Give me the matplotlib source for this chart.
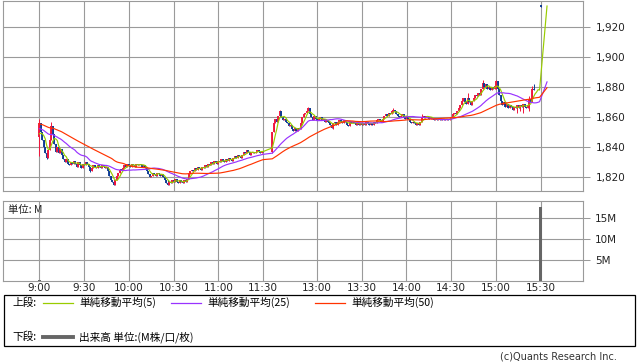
import numpy as np
import pandas as pd
import matplotlib
matplotlib.use("Agg")
import matplotlib.pyplot as plt
from matplotlib.patches import Rectangle
from matplotlib.lines import Line2D

# ---------------- data ----------------
# last closes of the previous session (seed for the moving averages)
prev_closes = [1860, 1859, 1861, 1860, 1858, 1859, 1860, 1858, 1857, 1859,
               1860, 1858, 1859, 1857, 1858, 1860, 1859, 1858, 1857, 1859,
               1858, 1857, 1859, 1858, 1857, 1856, 1855, 1854, 1856, 1855,
               1854, 1853, 1854, 1852, 1853, 1854, 1852, 1853, 1851, 1852,
               1853, 1851, 1850, 1852, 1851, 1848, 1847, 1846, 1847]

# morning session 9:00 - 11:30, one close per minute
am_open = 1847
am_closes = [1856, 1850, 1845, 1840, 1836, 1833, 1838, 1845, 1854, 1849,
             1842, 1837, 1840, 1836, 1839, 1835, 1832, 1830, 1832, 1829,
             1828, 1830, 1829, 1831, 1829, 1827, 1830, 1828, 1826, 1829,
             1828, 1830, 1829, 1827, 1824, 1826, 1828, 1827, 1826, 1828,
             1827, 1826, 1828, 1827, 1826, 1827, 1824, 1821, 1818, 1817,
             1815, 1818, 1821, 1823, 1825, 1825, 1826, 1828, 1827, 1829,
             1828, 1827, 1829, 1828, 1827, 1829, 1828, 1829, 1828, 1827,
             1828, 1826, 1824, 1822, 1820, 1821, 1823, 1822, 1821, 1823,
             1822, 1821, 1822, 1820, 1818, 1816, 1815, 1817, 1816, 1818,
             1817, 1819, 1817, 1816, 1818, 1817, 1816, 1818, 1817, 1819,
             1822, 1824, 1825, 1824, 1826, 1825, 1827, 1826, 1825, 1827,
             1826, 1828, 1827, 1829, 1828, 1830, 1829, 1831, 1830, 1829,
             1831, 1830, 1832, 1831, 1830, 1832, 1831, 1833, 1832, 1831,
             1833, 1834, 1833, 1835, 1834, 1833, 1835, 1837, 1836, 1838,
             1837, 1835, 1836, 1837, 1836, 1837, 1838, 1837, 1836, 1837, 1837]

# afternoon session 12:30 - 15:25, one close per minute
pm_open = 1837
pm_closes = [1850, 1856, 1859, 1857, 1861, 1864, 1860, 1858, 1859, 1857,
             1856, 1854, 1855, 1852, 1851, 1853, 1851, 1853, 1852, 1856,
             1860, 1862, 1863, 1864, 1866, 1862, 1860, 1858, 1861, 1859,
             1858, 1859, 1860, 1858, 1859, 1857, 1858, 1857, 1856, 1855,
             1853, 1856, 1857, 1855, 1857, 1858, 1857, 1856, 1858, 1857,
             1855, 1854, 1857, 1856, 1857, 1856, 1855, 1856, 1855, 1856,
             1855, 1856, 1855, 1857, 1856, 1855, 1856, 1855, 1857, 1856,
             1858, 1859, 1858, 1857, 1859, 1861, 1862, 1861, 1863, 1862,
             1864, 1865, 1864, 1862, 1861, 1860, 1861, 1862, 1860, 1859,
             1861, 1859, 1857, 1856, 1857, 1856, 1855, 1856, 1855, 1857,
             1860, 1861, 1860, 1861, 1860, 1859, 1860, 1859, 1858, 1859,
             1858, 1859, 1858, 1859, 1858, 1859, 1858, 1859, 1858, 1859,
             1860, 1862, 1863, 1862, 1864, 1866, 1868, 1871, 1873, 1870,
             1869, 1873, 1870, 1868, 1871, 1873, 1875, 1874, 1876, 1875,
             1879, 1883, 1880, 1882, 1879, 1880, 1878, 1880, 1879, 1881,
             1884, 1879, 1875, 1871, 1868, 1870, 1867, 1869, 1866, 1868,
             1867, 1865, 1867, 1866, 1868, 1866, 1868, 1867, 1869, 1867,
             1866, 1868, 1872, 1870, 1879, 1878]

# closing auction (no trades 15:26-15:29, print at 15:30, price held after)
wait_closes = [1878, 1878, 1878, 1878]
auction_open = 1934
auction_close = 1934
after_closes = [1934, 1934, 1934, 1934]

# candle wicks beyond the bodies
wick_times = ["9:00", "9:05", "9:08", "9:34", "9:50", "10:26", "12:30", "12:35",
              "12:54", "13:11", "13:51", "14:10", "14:41", "14:51", "15:00",
              "15:14", "15:16", "15:18", "15:22", "15:24", "15:25"]
wick_high = [1859, 1836, 1857, 1827, 1818, 1818, 1850, 1865,
             1866.5, 1856, 1866, 1862, 1876, 1885, 1884.5,
             1868, 1868, 1869, 1874, 1881, 1882]
wick_low = [1834, 1832, 1845, 1823.5, 1814.5, 1814.5, 1836, 1861,
            1864, 1852, 1863, 1858, 1869, 1879, 1879,
            1863, 1864, 1863, 1864, 1870, 1878]

# volume (millions)
vol_times = ["9:00", "15:30"]
vol_values = [0.3, 17.6]

tick_labels = ["9:00", "9:30", "10:00", "10:30", "11:00", "11:30",
               "13:00", "13:30", "14:00", "14:30", "15:00", "15:30"]
price_ticks = [1820, 1840, 1860, 1880, 1900, 1920]
vol_ticks = [5, 10, 15]

legend_labels = ["単純移動平均(5)", "単純移動平均(25)", "単純移動平均(50)"]
ma_periods = [5, 25, 50]
ma_colors = ["#99cc00", "#9933ff", "#ff3300"]
RED = "#f0143c"
BLUE = "#0d3b94"
GRID = "#9a9a9a"


def tx(t):
    h, m = map(int, t.split(":"))
    mins = h * 60 + m
    if mins <= 11 * 60 + 30:
        return mins - 9 * 60
    return 156 + mins - (12 * 60 + 30)


# ---------------- positions ----------------
am_x = np.arange(len(am_closes))
pm_x = 156 + np.arange(len(pm_closes))
wait_x = pm_x[-1] + 1 + np.arange(len(wait_closes))
auc_x = np.array([tx("15:30")])
after_x = auc_x[0] + 1 + np.arange(len(after_closes))

# candles
c_x = np.concatenate([am_x, pm_x, auc_x])
c_close = np.array(am_closes + pm_closes + [auction_close], float)
c_open = np.array([am_open] + am_closes[:-1] + [pm_open] + pm_closes[:-1] + [auction_open], float)
body_lo = np.minimum(c_open, c_close)
body_hi = np.maximum(c_open, c_close)
flat = body_hi - body_lo < 0.8
body_lo = np.where(flat, body_lo - 0.45, body_lo)
body_hi = np.where(flat, body_hi + 0.45, body_hi)
colors = np.where(c_close > c_open, RED, BLUE)
pos = {int(x): k for k, x in enumerate(c_x)}
w_hi = body_hi.copy()
w_lo = body_lo.copy()
for t, h, l in zip(wick_times, wick_high, wick_low):
    k = pos[tx(t)]
    w_hi[k] = max(w_hi[k], h)
    w_lo[k] = min(w_lo[k], l)

# moving averages
series = prev_closes + am_closes + pm_closes + wait_closes + [auction_close] + after_closes
ma_x = np.concatenate([am_x, pm_x, wait_x, auc_x, after_x])
s = pd.Series(series, dtype=float)

# ---------------- figure ----------------
W, H = 638, 362
fig = plt.figure(figsize=(W / 100, H / 100), dpi=100)


def rect(l, t, r, b):
    return [l / W, 1 - b / H, (r - l) / W, (b - t) / H]


px = 1.4933
x0 = 39.3
xlim = ((3 - x0) / px, (583 - x0) / px)
tick_x = [tx(t) for t in tick_labels]

ax = fig.add_axes(rect(3, 0.5, 583, 190.5))
ax.set_xlim(*xlim)
ax.set_ylim(1920 - (190.5 - 27) / 1.5, 1920 + (27 - 0.5) / 1.5)
ax.set_xticks(tick_x)
ax.set_yticks(price_ticks)
ax.set_yticklabels([f"{v:,}" for v in price_ticks])
ax.yaxis.tick_right()
ax.tick_params(axis="x", length=0, labelbottom=False)
ax.tick_params(axis="y", length=5, width=0.75, color=GRID, pad=4, labelsize=7.5, labelcolor="#222222")
ax.grid(True, color=GRID, lw=0.8)
ax.set_axisbelow(True)
for sp in ax.spines.values():
    sp.set_color(GRID)
    sp.set_linewidth(0.8)

ax.vlines(c_x, w_lo, w_hi, colors=colors, lw=0.7, zorder=2)
ax.vlines(c_x, body_lo, body_hi, colors=colors, lw=1.35, zorder=2)

for n, col in zip(ma_periods, ma_colors):
    ma = s.rolling(n).mean().values[len(prev_closes):]
    ax.plot(ma_x, ma, color=col, lw=0.85, zorder=3)

# volume panel
axv = fig.add_axes(rect(3, 201, 582.5, 281))
axv.set_xlim(*xlim)
axv.set_ylim(0, (281 - 201) / 4.2)
axv.bar([tx(t) for t in vol_times], vol_values, width=1.7, color="#666666", zorder=2)
axv.set_xticks(tick_x)
axv.set_xticklabels(tick_labels)
axv.set_yticks(vol_ticks)
axv.set_yticklabels([f"{v}M" for v in vol_ticks])
axv.yaxis.tick_right()
axv.tick_params(axis="x", length=0, pad=1.5, labelsize=7.5, labelcolor="#222222")
axv.tick_params(axis="y", length=5, width=0.75, color=GRID, pad=4, labelsize=7.5, labelcolor="#222222")
axv.grid(True, color=GRID, lw=0.8)
axv.set_axisbelow(True)
for sp in axv.spines.values():
    sp.set_color(GRID)
    sp.set_linewidth(0.8)

CJK = ["Noto Sans CJK JP", "DejaVu Sans"]
fig.text(8 / W, 1 - 210 / H, "単位: M", family=CJK, fontsize=7.5, va="center", ha="left", color="#222222")

# legend box
fig.add_artist(Rectangle((3.5 / W, 1 - 346 / H), 631 / W, 51 / H, transform=fig.transFigure,
                         fill=False, ec="black", lw=0.9))
row1 = 1 - 302.5 / H
row2 = 1 - 337 / H
fig.text(12 / W, row1, "上段:", family=CJK, fontsize=7.7, va="center", ha="left")
fig.text(12 / W, row2, "下段:", family=CJK, fontsize=7.7, va="center", ha="left")
line_starts = [43, 171, 315]
for xs, col, lab in zip(line_starts, ma_colors, legend_labels):
    fig.add_artist(Line2D([xs / W, (xs + 30) / W], [row1, row1], transform=fig.transFigure,
                          color=col, lw=0.9))
    fig.text((xs + 36) / W, row1, lab, family=CJK, fontsize=7.7, va="center", ha="left")
fig.add_artist(Line2D([43 / W, 73 / W], [row2, row2], transform=fig.transFigure,
                      color="#666666", lw=2.8))
fig.text(79 / W, row2, "出来高 単位:(M株/口/枚)", family=CJK, fontsize=7.7, va="center", ha="left")

fig.text(617 / W, 1 - 356.5 / H, "(c)Quants Research Inc.", fontsize=7, ha="right", va="center",
         color="#333333")

fig.savefig("out.png", dpi=100, facecolor="white")
